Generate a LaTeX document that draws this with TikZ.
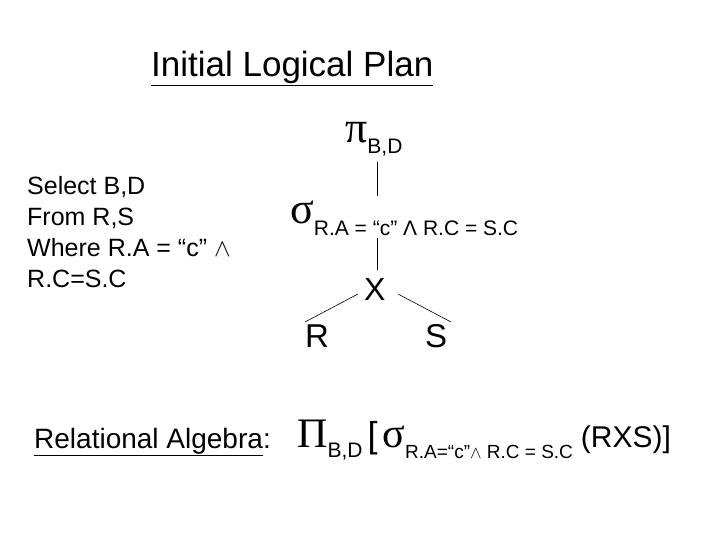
\documentclass[tikz,border=0pt]{standalone}
\usepackage{fontspec}
\setmainfont{Liberation Sans}
\newfontfamily\grk{Liberation Serif}
\newcommand{\lowsub}[2]{\raisebox{-#1}{#2}}
\begin{document}
\begin{tikzpicture}[x=1pt,y=-1pt,
  txt/.style={inner sep=0pt,anchor=base west},
  edge/.style={draw,line width=0.6pt}]
\useasboundingbox (0,0) rectangle (720,540);
\node[txt,font=\fontsize{35}{40}\selectfont] (title) at (151,77) {\underline{Initial Logical Plan}};
\node[inner sep=0pt,font=\fontsize{25}{31}\selectfont,align=left,anchor=north west] (sql) at (27,176)
 {Select B,D\\From R,S\\Where R.A = “c” $\wedge$\\R.C=S.C};
\node[txt] (pi) at (345,143) {{\grk\fontsize{44}{44}\selectfont π}\lowsub{11pt}{\fontsize{21}{22}\selectfont B,D}};
\node[txt] (sigma) at (290,223) {{\grk\fontsize{44}{44}\selectfont σ}\lowsub{13pt}{\fontsize{21}{22}\selectfont R.A = “c” Λ R.C = S.C}};
\node[txt,font=\fontsize{32}{34}\selectfont] (x) at (364,300) {X};
\node[txt,font=\fontsize{33}{34}\selectfont] (r) at (305,347) {R};
\node[txt,font=\fontsize{33}{34}\selectfont] (s) at (425,347) {S};
\coordinate (a1) at (377,162); \coordinate (a2) at (377,196);
\coordinate (b1) at (377,238); \coordinate (b2) at (377,270);
\coordinate (c1) at (358,294); \coordinate (c2) at (305,322);
\coordinate (d1) at (398,294); \coordinate (d2) at (451,322);
\draw[edge] (a1) -- (a2);
\draw[edge] (b1) -- (b2);
\draw[edge] (c1) -- (c2);
\draw[edge] (d1) -- (d2);
\node[txt,font=\fontsize{28}{30}\selectfont] (ra) at (34,448) {\underline{Relational Algebra}:};
\node[txt] (expr) at (297,447) {{\grk\fontsize{42}{42}\selectfont Π}\lowsub{10pt}{\fontsize{21}{22}\selectfont B,D}\hspace{5pt}{\fontsize{36}{36}\selectfont [}\hspace{5pt}{\grk\fontsize{42}{42}\selectfont σ}\lowsub{11pt}{\fontsize{19}{20}\selectfont R.A=“c”$\wedge$ R.C = S.C}\hspace{8pt}{\fontsize{30}{30}\selectfont (RXS)]}};
\end{tikzpicture}
\end{document}
